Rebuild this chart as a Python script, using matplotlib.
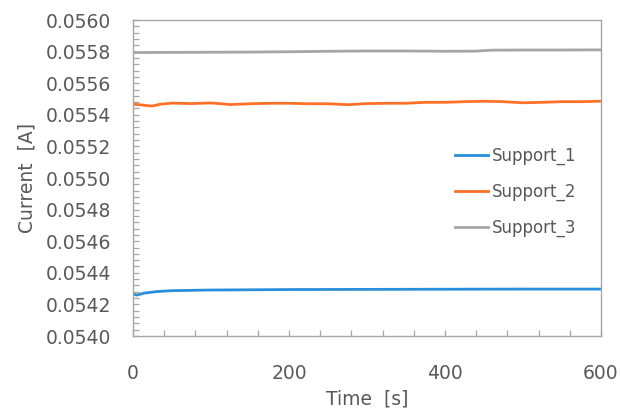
import matplotlib
matplotlib.use("Agg")
import matplotlib.pyplot as plt
from matplotlib.ticker import MultipleLocator, FormatStrFormatter

# Data
t1 = [0, 5, 15, 30, 50, 100, 200, 300, 400, 500, 600]
support_1 = [0.054265, 0.054259, 0.054272, 0.054281, 0.054287, 0.054291,
             0.054294, 0.054295, 0.054296, 0.054297, 0.054297]

t2 = [0, 10, 20, 25, 35, 50, 75, 100, 125, 150, 175, 200, 225, 250, 275,
      300, 325, 350, 375, 400, 425, 450, 475, 500, 525, 550, 575, 600]
support_2 = [0.055467, 0.055463, 0.055457, 0.055456, 0.055467, 0.055474,
             0.055471, 0.055475, 0.055465, 0.055470, 0.055473, 0.055473,
             0.055470, 0.055470, 0.055464, 0.055471, 0.055473, 0.055473,
             0.055479, 0.055479, 0.055483, 0.055486, 0.055483, 0.055476,
             0.055479, 0.055483, 0.055483, 0.055486]

t3 = [0, 50, 100, 150, 200, 250, 300, 350, 400, 440, 460, 500, 550, 600]
support_3 = [0.055794, 0.055795, 0.055796, 0.055797, 0.055799, 0.055802,
             0.055804, 0.055804, 0.055802, 0.055803, 0.055809, 0.055810,
             0.055810, 0.055811]

labels = ["Support_1", "Support_2", "Support_3"]
colors = ["#2A8FDB", "#FF7028", "#A5A5A5"]

plt.rcParams['font.family'] = ['DejaVu Sans']
text_color = "#595959"
frame_color = "#A6A6A6"

fig = plt.figure(figsize=(6.2, 4.12), dpi=100)
ax = fig.add_axes([133/620, 1-336/412, 468/620, 316/412])

for t, y, lab, c in zip([t1, t2, t3], [support_1, support_2, support_3], labels, colors):
    ax.plot(t, y, color=c, lw=2.0, label=lab)

ax.set_xlim(0, 600)
ax.set_ylim(0.0540, 0.0560)
ax.xaxis.set_major_locator(MultipleLocator(200))
ax.xaxis.set_minor_locator(MultipleLocator(40))
ax.yaxis.set_major_locator(MultipleLocator(0.0002))
ax.yaxis.set_minor_locator(MultipleLocator(0.00004))
ax.yaxis.set_major_formatter(FormatStrFormatter('%.4f'))

for s in ax.spines.values():
    s.set_color(frame_color)
    s.set_linewidth(1.0)

ax.tick_params(axis='both', which='both', direction='in', color=frame_color,
               length=4, width=0.9, labelcolor=text_color, labelsize=13.5)
ax.tick_params(axis='x', which='both', pad=20)
ax.tick_params(axis='y', which='both', pad=16)

ax.set_xlabel("Time  [s]", fontsize=13.5, color=text_color)
ax.set_ylabel("Current  [A]", fontsize=13.5, color=text_color)
ax.xaxis.set_label_coords(0.5, -0.168)
ax.yaxis.set_label_coords(-0.207, 0.5)

leg = ax.legend(loc='center left', bbox_to_anchor=((455-133)/468, (336-192)/316),
                frameon=False, fontsize=12, handlelength=2.0, handletextpad=0.2,
                labelspacing=1.05, borderpad=0, borderaxespad=0)
for txt in leg.get_texts():
    txt.set_color(text_color)

fig.savefig("out.png", dpi=100)
